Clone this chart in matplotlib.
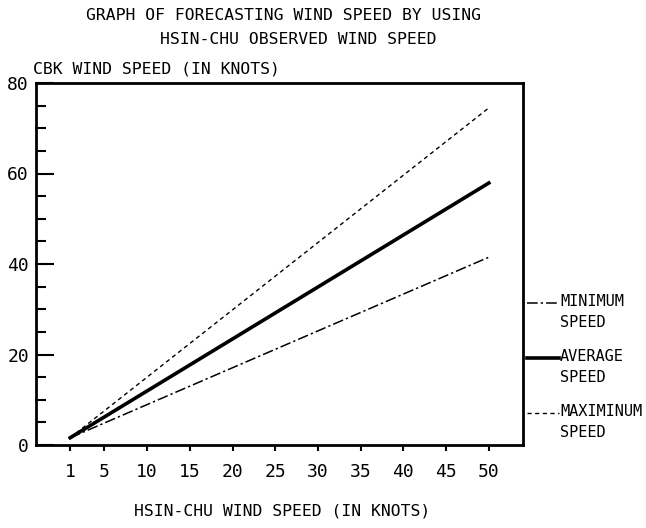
import matplotlib.pyplot as plt
from matplotlib.lines import Line2D
from matplotlib.ticker import MultipleLocator

hsinchu_speed = [1, 50]
max_speed = [1.6, 74.5]
avg_speed = [1.6, 57.9]
min_speed = [1.6, 41.5]

x_ticks = [1, 5, 10, 15, 20, 25, 30, 35, 40, 45, 50]
y_ticks = [0, 20, 40, 60, 80]

plt.rcParams['font.family'] = ['DejaVu Sans Mono', 'DejaVu Sans']

W, H = 646, 528
fig = plt.figure(figsize=(W / 100, H / 100), dpi=100)
ax = fig.add_axes([36 / W, 1 - 445 / H, (523 - 36) / W, (445 - 83) / H])

styles = {
    'min': dict(color='black', lw=1.1, dashes=(7, 2, 1.5, 2)),
    'avg': dict(color='black', lw=2.6),
    'max': dict(color='black', lw=1.0, dashes=(3, 2.5)),
}
ax.plot(hsinchu_speed, min_speed, **styles['min'])
ax.plot(hsinchu_speed, avg_speed, **styles['avg'])
ax.plot(hsinchu_speed, max_speed, **styles['max'])

ax.set_xlim(-3, 54)
ax.set_ylim(0, 80)
ax.set_xticks(x_ticks)
ax.set_yticks(y_ticks)
ax.yaxis.set_minor_locator(MultipleLocator(5))
ax.tick_params(axis='y', which='major', direction='in', length=13, width=1.5, labelsize=13, pad=5)
ax.tick_params(axis='y', which='minor', direction='in', length=7, width=1.5)
ax.tick_params(axis='x', which='major', direction='out', length=4, width=1.5, labelsize=13, pad=9)
for s in ax.spines.values():
    s.set_linewidth(2)

# legend drawn by hand: the handle sits on the first text row
legend_rows = [('MINIMUM', 'min', 303), ('AVERAGE', 'avg', 358), ('MAXIMINUM', 'max', 413)]
for name, key, y in legend_rows:
    fig.add_artist(Line2D([527 / W, 559 / W], [1 - y / H, 1 - y / H], **styles[key]))
    fig.text(560 / W, 1 - (y - 9) / H, name + '\nSPEED', ha='left', va='top',
             fontsize=11, linespacing=1.5)

fig.text(283 / W, 1 - 15.5 / H, 'GRAPH OF FORECASTING WIND SPEED BY USING', ha='center', va='center', fontsize=11.8)
fig.text(298 / W, 1 - 39 / H, 'HSIN-CHU OBSERVED WIND SPEED', ha='center', va='center', fontsize=11.8)
fig.text(33 / W, 1 - 69 / H, 'CBK WIND SPEED (IN KNOTS)', ha='left', va='center', fontsize=11.8)
fig.text(282 / W, 1 - 511 / H, 'HSIN-CHU WIND SPEED (IN KNOTS)', ha='center', va='center', fontsize=11.8)

fig.savefig('out.png', dpi=100)
